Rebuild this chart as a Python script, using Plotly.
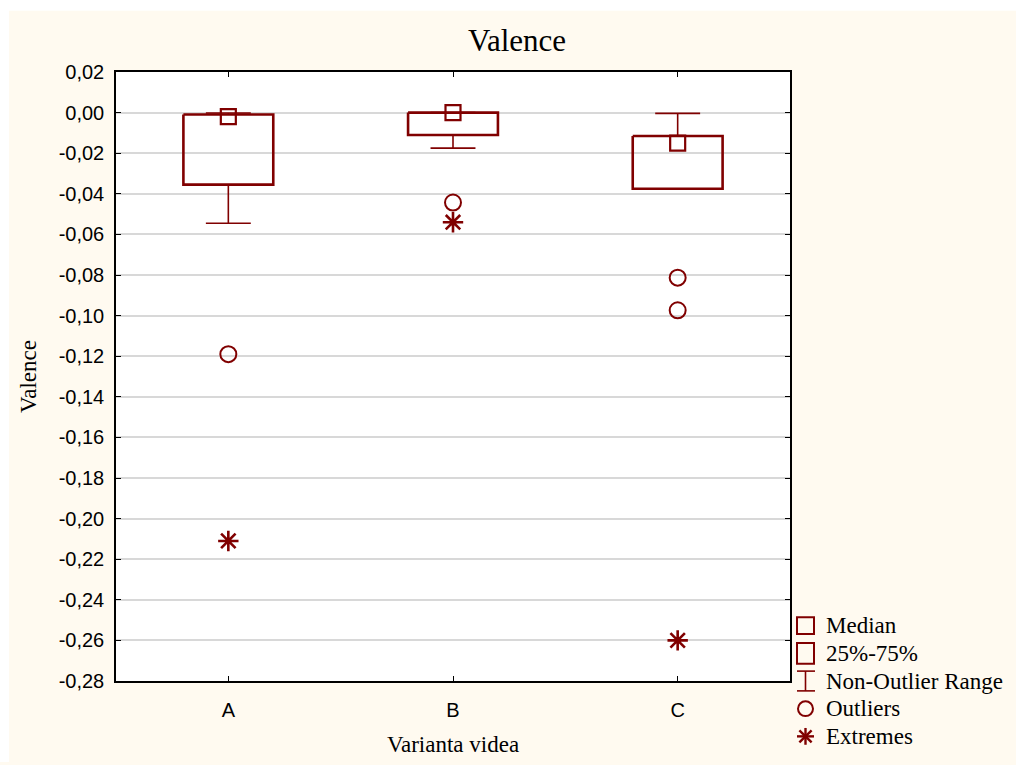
import plotly.graph_objects as go

# ---- data ----
categories = ["A", "B", "C"]
q1 = [-0.0355, -0.011, -0.0375]
q3 = [-0.0009, 0.0, -0.0115]
medians = [-0.002, 0.0, -0.015]
whisker_low = [-0.0545, -0.0175, -0.0375]
whisker_high = [-0.0002, 0.0, -0.0004]
outlier_cat = ["A", "B", "C", "C"]
outlier_val = [-0.119, -0.0443, -0.0813, -0.0974]
extreme_cat = ["A", "B", "C"]
extreme_val = [-0.211, -0.054, -0.26]

y_ticks = [0.02, 0.0, -0.02, -0.04, -0.06, -0.08, -0.10, -0.12, -0.14,
           -0.16, -0.18, -0.20, -0.22, -0.24, -0.26, -0.28]
legend_labels = ["Median", "25%-75%", "Non-Outlier Range", "Outliers", "Extremes"]

# ---- styling ----
RED = "#800000"
CREAM = "#FFFAF0"
W, H = 1016, 765
ML, MR, MT, MB = 116, 226, 72, 77
PW, PH = W - ML - MR, H - MT - MB

pos = {c: i for i, c in enumerate(categories)}
xi = [pos[c] for c in categories]
half_box = 0.2
half_cap = 0.1

# boxes
bx, by = [], []
for x, a, b in zip(xi, q1, q3):
    bx += [x - half_box, x + half_box, x + half_box, x - half_box, x - half_box, None]
    by += [b, b, a, a, b, None]

# whiskers
wx, wy = [], []
for x, a, b, lo, hi in zip(xi, q1, q3, whisker_low, whisker_high):
    wx += [x, x, None, x - half_cap, x + half_cap, None]
    wy += [b, hi, None, hi, hi, None]
    wx += [x, x, None, x - half_cap, x + half_cap, None]
    wy += [a, lo, None, lo, lo, None]

fig = go.Figure()
fig.add_trace(go.Scatter(x=wx, y=wy, mode="lines", line=dict(color=RED, width=1.6),
                         showlegend=False, hoverinfo="skip"))
fig.add_trace(go.Scatter(x=bx, y=by, mode="lines", line=dict(color=RED, width=2.6),
                         showlegend=False, hoverinfo="skip"))
fig.add_trace(go.Scatter(x=xi, y=medians, mode="markers",
                         marker=dict(symbol="square-open", size=15, color=RED,
                                     line=dict(color=RED, width=2.2)),
                         showlegend=False))
fig.add_trace(go.Scatter(x=[pos[c] for c in outlier_cat], y=outlier_val, mode="markers",
                         marker=dict(symbol="circle-open", size=16, color=RED,
                                     line=dict(color=RED, width=2)),
                         showlegend=False))
fig.add_trace(go.Scatter(x=[pos[c] for c in extreme_cat], y=extreme_val, mode="markers",
                         marker=dict(symbol="asterisk-open", size=17, color=RED,
                                     line=dict(color=RED, width=2.6)),
                         showlegend=False))


def px_x(p):
    return (p - ML) / PW


def px_y(p):
    return (H - MB - p) / PH


shapes = []
# white outer strips (top and left) over the cream paper
shapes.append(dict(type="rect", xref="paper", yref="paper", layer="below",
                   x0=px_x(-5), x1=px_x(W + 5), y0=px_y(10), y1=px_y(-5),
                   fillcolor="white", line=dict(width=0)))
shapes.append(dict(type="rect", xref="paper", yref="paper", layer="below",
                   x0=px_x(-5), x1=px_x(9), y0=px_y(H + 5), y1=px_y(-5),
                   fillcolor="white", line=dict(width=0)))

# manual legend symbols
lx0, lx1 = 797, 814
lc = (lx0 + lx1) / 2
ycent = [632, 660, 688, 716, 744]
lw = dict(color=RED, width=2)
# Median
shapes.append(dict(type="rect", xref="paper", yref="paper",
                   x0=px_x(lx0), x1=px_x(lx1), y0=px_y(ycent[0] + 8.5), y1=px_y(ycent[0] - 8.5),
                   line=lw))
# 25%-75%
shapes.append(dict(type="rect", xref="paper", yref="paper",
                   x0=px_x(lx0), x1=px_x(lx1), y0=px_y(ycent[1] + 10.5), y1=px_y(ycent[1] - 10.5),
                   line=lw))
# Non-outlier range (I-beam)
yt, yb = ycent[2] - 10, ycent[2] + 10
for (xa, ya, xb, yb2) in [(lx0, yt, lx1 + 1, yt), (lx0, yb, lx1 + 1, yb), (lc, yt, lc, yb)]:
    shapes.append(dict(type="line", xref="paper", yref="paper",
                       x0=px_x(xa), x1=px_x(xb), y0=px_y(ya), y1=px_y(yb2),
                       line=dict(color=RED, width=1.6)))
# Outliers circle
shapes.append(dict(type="circle", xref="paper", yref="paper",
                   x0=px_x(lc - 7.5), x1=px_x(lc + 7.5), y0=px_y(ycent[3] + 7.5), y1=px_y(ycent[3] - 7.5),
                   line=lw))
# Extremes asterisk
r = 8.5
d = r * 0.72
for (dx, dy) in [(0, r), (r, 0), (d, d), (d, -d)]:
    shapes.append(dict(type="line", xref="paper", yref="paper",
                       x0=px_x(lc - dx), x1=px_x(lc + dx), y0=px_y(ycent[4] - dy), y1=px_y(ycent[4] + dy),
                       line=dict(color=RED, width=2.4)))

annotations = []
for lab, yc in zip(legend_labels, ycent):
    annotations.append(dict(text=lab, xref="paper", yref="paper", x=px_x(824), y=px_y(yc),
                            xanchor="left", yanchor="middle", showarrow=False,
                            font=dict(family="Liberation Serif", size=23, color="black")))

fig.update_layout(
    width=W, height=H,
    margin=dict(l=ML, r=MR, t=MT, b=MB),
    paper_bgcolor=CREAM,
    plot_bgcolor="white",
    title=dict(text="Valence", x=517 / W, xref="container", xanchor="center",
               y=1 - 40 / H, yref="container", yanchor="middle",
               font=dict(family="Liberation Serif", size=31, color="black")),
    shapes=shapes,
    annotations=annotations,
    showlegend=False,
)

fig.update_xaxes(
    range=[-0.5, 2.5], tickmode="array", tickvals=xi, ticktext=categories,
    showgrid=False, zeroline=False,
    showline=True, linecolor="black", linewidth=1.5, mirror="ticks",
    ticks="inside", ticklen=5, tickcolor="black", tickwidth=1.2,
    tickfont=dict(family="Liberation Sans", size=20, color="black"),
    ticklabelstandoff=10,
    title=dict(text="Varianta videa", standoff=16,
               font=dict(family="Liberation Serif", size=23, color="black")),
)
fig.update_yaxes(
    range=[-0.28, 0.02], tickmode="array", tickvals=y_ticks,
    ticktext=[("%.2f" % v).replace(".", ",") if abs(v) > 1e-12 else "0,00" for v in y_ticks],
    showgrid=True, gridcolor="#D8D8D8", gridwidth=1.5, zeroline=False,
    showline=True, linecolor="black", linewidth=1.5, mirror="ticks",
    ticks="inside", ticklen=5, tickcolor="black", tickwidth=1.2,
    tickfont=dict(family="Liberation Sans", size=20, color="black"),
    ticklabelstandoff=6,
    title=dict(text="Valence", standoff=16,
               font=dict(family="Liberation Serif", size=23, color="black")),
)

fig.write_html("out.html")
